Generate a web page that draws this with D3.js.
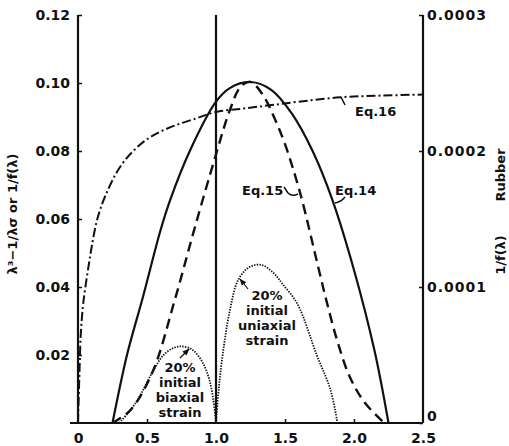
<!DOCTYPE html>
<html lang="en">
<head>
<meta charset="UTF-8">
<title>Rubber 1/f(lambda)</title>
<script src="https://cdn.jsdelivr.net/npm/d3@7/dist/d3.min.js"></script>
<style>
  body { margin: 0; background: #fff; }
  svg text { font-family: "DejaVu Sans", sans-serif; fill: #111; font-weight: bold; }
</style>
</head>
<body>
<svg id="mainsvg" width="509" height="446"></svg>
<script>
    // Data
    const lam14 = [0.25, 0.355, 0.47, 0.6, 0.667, 0.81, 1.0, 1.1, 1.25, 1.4, 1.55, 1.70, 1.84, 2.0, 2.15, 2.25];
    const val14 = [0, 0.020, 0.037, 0.057, 0.0655, 0.080, 0.0945, 0.0985, 0.1003, 0.098, 0.091, 0.080, 0.066, 0.045, 0.021, 0];

    const lam15 = [0.25, 0.38, 0.54, 0.70, 0.85, 1.0, 1.1, 1.18, 1.25, 1.34, 1.42, 1.50, 1.61, 1.74, 1.80, 1.88, 1.97, 2.08, 2.22];
    const val15 = [0, 0.0038, 0.015, 0.036, 0.058, 0.079, 0.092, 0.099, 0.1003, 0.0965, 0.090, 0.082, 0.0676, 0.046, 0.036, 0.024, 0.0135, 0.0059, 0];

    const lam16 = [0, 0.01, 0.02, 0.035, 0.05, 0.08, 0.1, 0.14, 0.2, 0.3, 0.4, 0.52, 0.67, 0.85, 1.0, 1.2, 1.4, 1.6, 1.9, 2.2, 2.5];
    const val16 = [0, 0.014, 0.026, 0.034, 0.039, 0.047, 0.052, 0.060, 0.067, 0.075, 0.080, 0.084, 0.087, 0.0895, 0.0915, 0.0925, 0.0935, 0.0945, 0.0958, 0.0963, 0.0966];

    const lamBi = [0.30, 0.42, 0.54, 0.62, 0.70, 0.76, 0.83, 0.90, 0.95, 0.98, 1.0];
    const valBi = [0, 0.006, 0.015, 0.020, 0.0222, 0.0225, 0.0215, 0.018, 0.013, 0.007, 0];

    const lamUni = [1.0, 1.02, 1.05, 1.10, 1.16, 1.24, 1.33, 1.42, 1.48, 1.59, 1.73, 1.83, 1.88];
    const valUni = [0, 0.010, 0.0206, 0.033, 0.042, 0.0458, 0.0465, 0.044, 0.041, 0.035, 0.020, 0.0097, 0];

    const xTicks = [0, 0.5, 1.0, 1.5, 2.0, 2.5];
    const xTickLabels = ['0', '0.5', '1.0', '1.5', '2.0', '2.5'];
    const yTicks = [0.02, 0.04, 0.06, 0.08, 0.10, 0.12];
    const yRightTicks = [0, 0.0001, 0.0002, 0.0003];
    const yRightLabels = ['0', '0.0001', '0.0002', '0.0003'];

    const svg = d3.select('#mainsvg');

    const x = d3.scaleLinear().domain([0, 2.5]).range([78, 423]);
    const y = d3.scaleLinear().domain([0, 0.12]).range([423, 15]);
    const yR = d3.scaleLinear().domain([0, 0.0003]).range([423, 15]);

    // axes
    const gx = svg.append('g')
        .attr('transform', `translate(0,${y(0)})`)
        .call(d3.axisBottom(x).tickValues(xTicks).tickSize(-4).tickPadding(10)
            .tickFormat((d, i) => xTickLabels[i]));
    const gy = svg.append('g')
        .attr('transform', `translate(${x(0)},0)`)
        .call(d3.axisLeft(y).tickValues(yTicks).tickSize(-4).tickPadding(8)
            .tickFormat(d3.format('.2f')));
    const gr = svg.append('g')
        .attr('transform', `translate(${x(2.5)},0)`)
        .call(d3.axisRight(yR).tickValues(yRightTicks).tickSize(-4).tickPadding(4)
            .tickFormat((d, i) => yRightLabels[i]));

    [gx, gy, gr].forEach(g => {
        g.select('.domain').remove();
        g.selectAll('.tick line').attr('stroke', '#111').attr('stroke-width', 1.5);
        g.selectAll('.tick text')
            .attr('font-size', 14)
            .attr('font-family', '"DejaVu Sans", sans-serif')
            .attr('font-weight', 'bold')
            .attr('fill', '#111');
    });
    gx.selectAll('.tick').filter(d => d === 0 || d === 1.0 || d === 2.5).select('line').remove();
    gr.selectAll('.tick').filter(d => d === 0).select('text').attr('dy', '-0.2em');
    gr.selectAll('.tick text').attr('letter-spacing', 1);

    // axis lines
    const rule = (x1, y1, x2, y2) => svg.append('line')
        .attr('x1', x1).attr('y1', y1).attr('x2', x2).attr('y2', y2)
        .attr('stroke', '#111').attr('stroke-width', 2.2);
    rule(70, y(0), x(2.5), y(0));
    rule(x(0), y(0.12), x(0), y(0));
    rule(x(2.5), yR(0.0003), x(2.5), yR(0));
    rule(x(1.0), y(0.12), x(1.0), y(0));

    // axis titles
    svg.append('text')
        .attr('transform', `translate(17,214) rotate(-90)`)
        .attr('text-anchor', 'middle')
        .attr('font-size', 13)
        .text('λ³−1/λσ  or  1/f(λ)');
    svg.append('text')
        .attr('transform', `translate(505,255) rotate(-90)`)
        .attr('text-anchor', 'middle')
        .attr('font-size', 13)
        .text('1/f(λ)');
    svg.append('text')
        .attr('transform', `translate(505,175) rotate(-90)`)
        .attr('text-anchor', 'middle')
        .attr('font-size', 13)
        .text('Rubber');

    // curves
    const line = d3.line()
        .x(d => x(d[0]))
        .y(d => y(d[1]))
        .curve(d3.curveCatmullRom.alpha(0.5));

    const series = [
        {lam: lam14, val: val14, width: 2.2, dash: null},
        {lam: lam15, val: val15, width: 2.4, dash: '10,6'},
        {lam: lam16, val: val16, width: 2, dash: '9,3,2,3'},
        {lam: lamBi, val: valBi, width: 1.8, dash: '1.4,1.3'},
        {lam: lamUni, val: valUni, width: 1.8, dash: '1.4,1.3'}
    ];

    svg.selectAll('path.curve')
        .data(series)
        .join('path')
        .attr('class', 'curve')
        .attr('d', s => line(s.lam.map((l, i) => [l, s.val[i]])))
        .attr('fill', 'none')
        .attr('stroke', '#111')
        .attr('stroke-width', s => s.width)
        .attr('stroke-dasharray', s => s.dash);

    // labels
    const lbl = (tx, ty, t) => svg.append('text')
        .attr('x', tx).attr('y', ty).attr('font-size', 13).text(t);
    lbl(242, 195, 'Eq.15');
    lbl(335, 195, 'Eq.14');
    lbl(355, 116, 'Eq.16');

    const leader = d => svg.append('path').attr('d', d)
        .attr('fill', 'none').attr('stroke', '#111').attr('stroke-width', 1.5);
    leader('M284,187 L288,193 Q292,197 298,194');
    leader('M335,203 Q341,202 345,197');
    leader('M341,97 L345,105');

    const block = (cx, by, lines) => {
        lines.forEach((t, i) => {
            svg.append('text')
                .attr('x', cx).attr('y', by + i * 15)
                .attr('text-anchor', 'middle')
                .attr('font-size', 13)
                .text(t);
        });
    };
    block(180, 372, ['20%', 'initial', 'biaxial', 'strain']);
    block(267, 300, ['20%', 'initial', 'uniaxial', 'strain']);

    // small arrows from labels to curves
    svg.append('defs').append('marker')
        .attr('id', 'arr')
        .attr('viewBox', '0 0 10 10')
        .attr('refX', 9).attr('refY', 5)
        .attr('markerWidth', 6).attr('markerHeight', 6)
        .attr('orient', 'auto')
        .append('path').attr('d', 'M0,1 L10,5 L0,9 Z').attr('fill', '#111');
    svg.append('line')
        .attr('x1', 180).attr('y1', 358).attr('x2', 189).attr('y2', 349)
        .attr('stroke', '#111').attr('stroke-width', 1.2).attr('marker-end', 'url(#arr)');
    svg.append('line')
        .attr('x1', 248).attr('y1', 289).attr('x2', 240).attr('y2', 279)
        .attr('stroke', '#111').attr('stroke-width', 1.2).attr('marker-end', 'url(#arr)');
</script>
</body>
</html>
